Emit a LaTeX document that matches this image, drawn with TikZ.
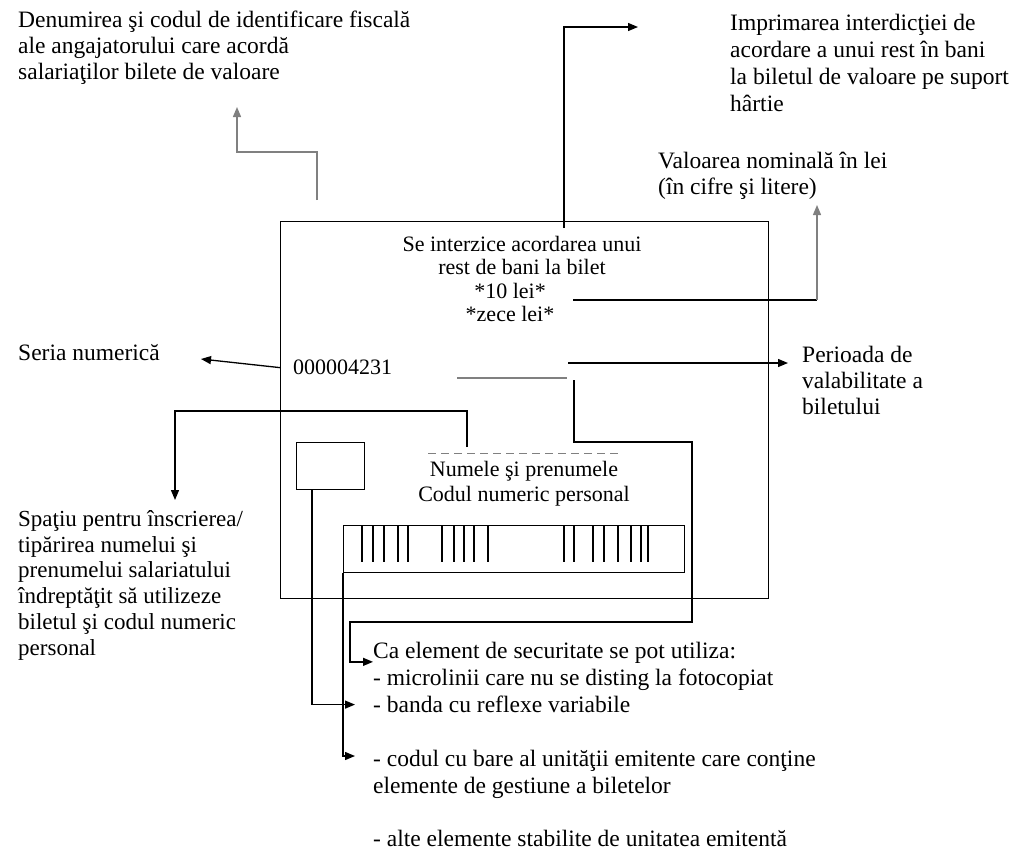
\documentclass[tikz,border=0pt]{standalone}
\usepackage{fontspec}
\setmainfont{Liberation Serif}
\usetikzlibrary{arrows.meta}
\tikzset{
  lbl/.style={inner sep=0pt,anchor=north west,align=left,font=\fontsize{23.5}{26}\selectfont},
  ctr/.style={lbl,anchor=north,align=center},
  box/.style={draw,line width=1.3pt,inner sep=0pt,anchor=north west},
  ln/.style={line width=1.3pt},
  ptr/.style={line width=1.3pt,-{Triangle[length=10pt,width=8pt]}},
  gry/.style={black!50}
}
\begin{document}
\begin{tikzpicture}[x=1pt,y=-1pt]
\useasboundingbox[fill=white](0,0)rectangle(1017,852);
\node[box,minimum width=488pt,minimum height=377pt](bilet)at(280,221){};
\node[box,minimum width=68pt,minimum height=47pt](marca)at(296,442){};
\node[box,minimum width=341pt,minimum height=47pt](cod)at(343,525){};
\foreach \x in {362,373,384,398,408,442,454,464,474,488,564,574,593,604,618,631,641,648}
  \draw[ln](\x,525)--++(0,37);
\node[lbl](denum)at(18,11){Denumirea şi codul de identificare fiscală\\ale angajatorului care acordă\\salariaţilor bilete de valoare};
\node[lbl,font=\fontsize{23.5}{27}\selectfont](imprim)at(730,14){Imprimarea interdicţiei de\\acordare a unui rest în bani\\la biletul de valoare pe suport\\hârtie};
\node[lbl](valnom)at(658,152){Valoarea nominală în lei\\(în cifre şi litere)};
\node[lbl](seria)at(18,344){Seria numerică};
\node[lbl,font=\fontsize{22}{26}\selectfont](serie)at(293,360){000004231};
\node[lbl](perioada)at(802,346){Perioada de\\valabilitate a\\biletului};
\node[lbl,font=\fontsize{23}{25.8}\selectfont](spatiu)at(18,510){Spaţiu pentru înscrierea/\\tipărirea numelui şi\\prenumelui salariatului\\îndreptăţit să utilizeze\\biletul şi codul numeric\\personal};
\node[ctr,font=\fontsize{22}{23.5}\selectfont](interd)at(522,236){Se interzice acordarea unui\\rest de bani la bilet\\*10 lei*\rule{24pt}{0pt}\\*zece lei*\rule{24pt}{0pt}};
\node[ctr,font=\fontsize{22}{25}\selectfont](numele)at(524,461){Numele şi prenumele\\Codul numeric personal};
\node[lbl](secur)at(373,642){Ca element de securitate se pot utiliza:};
\node[lbl](micro)at(373,669){- microlinii care nu se disting la fotocopiat};
\node[lbl](banda)at(373,696){- banda cu reflexe variabile};
\node[lbl,font=\fontsize{23.5}{27}\selectfont](codbare)at(373,750){- codul cu bare al unităţii emitente care conţine\\elemente de gestiune a biletelor};
\node[lbl](alte)at(373,830){- alte elemente stabilite de unitatea emitentă};
\draw[gry,dash pattern=on 8pt off 5pt,line width=1pt](428,453)coordinate(nm0)--(620,453)coordinate(nm1);
\draw[gry,line width=1.2pt](457,378)coordinate(dat0)--(567,378)coordinate(dat1);
\coordinate(c0)at(317,200);
\coordinate(c1)at(237,107);
\draw[ptr,gry](c0)--++(0,-48)-|(c1);
\coordinate(i0)at(564,228);
\coordinate(i1)at(638,27);
\draw[ptr](i0)|-(i1);
\coordinate(v0)at(573,300);
\coordinate(v1)at(817,205);
\draw[ln](v0)--(v0-|v1);
\draw[ptr,gry](v0-|v1)--(v1);
\coordinate(s1)at(201,359);
\draw[ptr](serie.west-|bilet.west)--(s1);
\coordinate(p0)at(568,363);
\coordinate(p1)at(788,363);
\draw[ptr](p0)--(p1);
\coordinate(q0)at(574,380);
\draw[ptr](q0)|-(692,442)|-(350,622)|-([yshift=-9pt]secur.west);
\coordinate(n0)at(467,447);
\coordinate(n1)at(175,500);
\draw[ptr](n0)--(n0|-0,411)-|(n1);
\draw[ptr]([xshift=16pt]marca.south west)|-([xshift=-18pt]banda.west);
\draw[ptr](cod.south west)|-([xshift=-18pt,yshift=-6pt]codbare.north west);
\end{tikzpicture}
\end{document}
